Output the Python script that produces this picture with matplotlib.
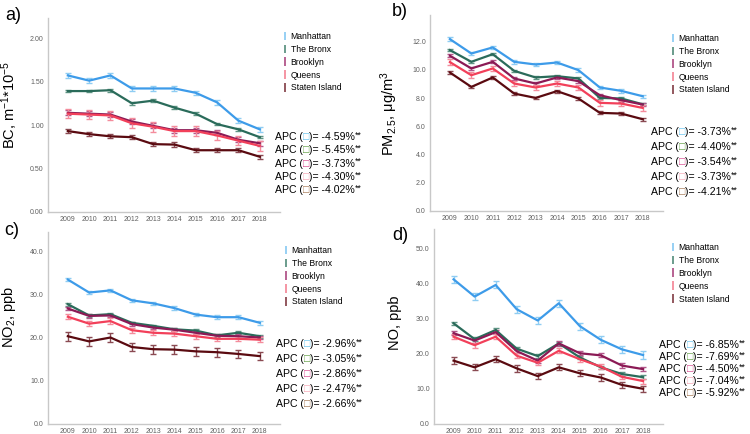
import numpy as np
import matplotlib
matplotlib.use("Agg")
import matplotlib.pyplot as plt

plt.rcParams['font.family'] = ['Liberation Sans', 'DejaVu Sans']
plt.rcParams['mathtext.fontset'] = 'custom'
plt.rcParams['mathtext.rm'] = 'Liberation Sans'
plt.rcParams['mathtext.it'] = 'Liberation Sans:italic'

years = [2009, 2010, 2011, 2012, 2013, 2014, 2015, 2016, 2017, 2018]
boroughs = ["Manhattan", "The Bronx", "Brooklyn", "Queens", "Staten Island"]

# BC, m-1*10-5
bc_manhattan = [1.57, 1.51, 1.57, 1.42, 1.42, 1.42, 1.37, 1.26, 1.05, 0.95]
bc_bronx = [1.39, 1.39, 1.40, 1.25, 1.28, 1.20, 1.13, 1.01, 0.95, 0.86]
bc_brooklyn = [1.14, 1.13, 1.12, 1.04, 0.99, 0.94, 0.94, 0.91, 0.83, 0.79]
bc_queens = [1.13, 1.12, 1.11, 1.02, 0.98, 0.93, 0.93, 0.88, 0.82, 0.76]
bc_staten = [0.93, 0.895, 0.87, 0.86, 0.78, 0.775, 0.71, 0.71, 0.71, 0.635]
bc_err = [0.025, 0.015, 0.03, 0.055, 0.025]
bc_apc = ["-4.59", "-5.45", "-3.73", "-4.30", "-4.02"]

# PM2.5, ug/m3
pm_manhattan = [12.19, 11.17, 11.60, 10.58, 10.39, 10.53, 9.99, 8.76, 8.52, 8.14]
pm_bronx = [11.41, 10.58, 11.12, 9.94, 9.47, 9.56, 9.40, 8.02, 7.98, 7.57]
pm_brooklyn = [11.01, 10.11, 10.58, 9.40, 9.04, 9.47, 9.21, 8.21, 7.86, 7.55]
pm_queens = [10.56, 9.63, 10.11, 9.04, 8.76, 9.04, 8.76, 7.67, 7.62, 7.31]
pm_staten = [9.82, 8.80, 9.47, 8.33, 8.02, 8.50, 7.98, 6.96, 6.91, 6.51]
pm_err = [0.12, 0.08, 0.1, 0.2, 0.1]
pm_apc = ["-3.73", "-4.40", "-3.54", "-3.73", "-4.21"]

# NO2, ppb
no2_manhattan = [33.4, 30.4, 30.9, 28.6, 27.9, 26.8, 25.3, 24.7, 24.7, 23.4]
no2_bronx = [27.7, 25.1, 25.4, 23.4, 22.7, 21.9, 21.6, 20.5, 21.1, 20.3]
no2_brooklyn = [26.7, 25.0, 25.1, 23.1, 22.3, 21.8, 21.1, 20.4, 20.3, 20.0]
no2_queens = [24.8, 23.2, 23.8, 21.7, 21.1, 20.9, 20.3, 19.7, 19.7, 19.5]
no2_staten = [20.3, 19.1, 20.0, 17.8, 17.3, 17.2, 16.8, 16.6, 16.2, 15.7]
no2_err = [0.4, 0.3, 0.4, 0.6, 1.0]
no2_apc = ["-2.96", "-3.05", "-2.86", "-2.47", "-2.66"]

# NO, ppb
no_manhattan = [41.1, 36.2, 39.5, 32.6, 29.4, 34.3, 27.8, 23.9, 21.2, 19.6]
no_bronx = [28.6, 24.1, 26.7, 21.4, 19.3, 22.9, 18.9, 16.1, 14.2, 13.3]
no_brooklyn = [25.8, 23.7, 26.1, 20.7, 18.0, 22.9, 20.1, 19.5, 16.6, 15.6]
no_queens = [24.8, 22.4, 24.8, 19.4, 17.4, 20.8, 18.4, 16.3, 13.4, 12.2]
no_staten = [18.0, 16.1, 18.4, 15.8, 13.6, 16.1, 14.4, 13.2, 11.1, 10.0]
no_err = [1.0, 0.5, 0.6, 0.7, 0.9]
no_apc = ["-6.85", "-7.69", "-4.50", "-7.04", "-5.92"]

line_colors = ["#3d9be9", "#2a6b5a", "#8b1a55", "#f2405a", "#5a0a10"]
err_colors = ["#8fcdf3", "#5f9484", "#b2568a", "#f48c9c", "#8a4a52"]
box_colors = ["#5cc0ef", "#5a9a3a", "#d8408a", "#f7a1b0", "#a0704a"]

W, H = 750, 434


def px(x, y):
    return x / W, 1 - y / H


fig = plt.figure(figsize=(7.5, 4.34), dpi=100)

panels = [
    dict(series=[bc_manhattan, bc_bronx, bc_brooklyn, bc_queens, bc_staten], err=bc_err, apc=bc_apc,
         rect=(48, 18, 280, 212), ylim=2.23, yticks=[0, 0.5, 1.0, 1.5, 2.0], fmt="{:.2f}",
         ylabel="BC, m$^{-1}$*10$^{-5}$", ylab=(-0.122, 0.55), letter="a)", lpos=(13, 15),
         leg=(282, 32), apc_pos=(275, 137, 13.3)),
    dict(series=[pm_manhattan, pm_bronx, pm_brooklyn, pm_queens, pm_staten], err=pm_err, apc=pm_apc,
         rect=(430, 15, 663, 211), ylim=13.9, yticks=[0, 2, 4, 6, 8, 10, 12], fmt="{:.1f}",
         ylabel="PM$_{2.5}$, \u03bcg/m$^{3}$", ylab=(-0.129, 0.5), letter="b)", lpos=(400, 11),
         leg=(670, 34), apc_pos=(651, 132, 15)),
    dict(series=[no2_manhattan, no2_bronx, no2_brooklyn, no2_queens, no2_staten], err=no2_err, apc=no2_apc,
         rect=(48, 232, 280, 424), ylim=44.4, yticks=[0, 10, 20, 30, 40], fmt="{:.1f}",
         ylabel="NO$_{2}$, ppb", ylab=(-0.13, 0.557), letter="c)", lpos=(12, 230),
         leg=(283, 246), apc_pos=(276, 344, 15)),
    dict(series=[no_manhattan, no_bronx, no_brooklyn, no_queens, no_staten], err=no_err, apc=no_apc,
         rect=(434, 229, 663, 424), ylim=55.4, yticks=[0, 10, 20, 30, 40, 50], fmt="{:.1f}",
         ylabel="NO, ppb", ylab=(-0.14, 0.518), letter="d)", lpos=(400, 236),
         leg=(670, 243), apc_pos=(659, 345, 12)),
]

for p in panels:
    x0, y0, x1, y1 = p["rect"]
    ax = fig.add_axes([x0 / W, 1 - y1 / H, (x1 - x0) / W, (y1 - y0) / H])
    handles = []
    for vals, e, lc, ec, name in zip(p["series"], p["err"], line_colors, err_colors, boroughs):
        ax.plot(years, vals, color=lc, lw=1.6, zorder=3)
        ax.errorbar(years, vals, yerr=e, fmt="none", ecolor=ec, elinewidth=1,
                    capsize=2, capthick=1, zorder=2)
        h = ax.errorbar([], [], yerr=[], fmt="none", ecolor=ec, elinewidth=1.3,
                        capsize=2, capthick=1.3, label=name)
        handles.append(h)
    ax.set_xlim(2008.07, 2018.95)
    ax.set_ylim(0, p["ylim"])
    ax.set_xticks(years)
    ax.set_xticklabels([str(y) for y in years])
    ax.set_yticks(p["yticks"])
    ax.set_yticklabels([p["fmt"].format(t) for t in p["yticks"]])
    ax.tick_params(length=0, labelsize=5, labelcolor="#606060", pad=3)
    for s in ["top", "right"]:
        ax.spines[s].set_visible(False)
    for s in ["left", "bottom"]:
        ax.spines[s].set_color("#c8c8c8")
        ax.spines[s].set_linewidth(1)
    ax.set_ylabel(p["ylabel"], fontsize=10.5)
    ax.yaxis.set_label_coords(*p["ylab"])

    lx, ly = p["leg"]
    bx = (lx - x0) / (x1 - x0)
    by = (y1 - ly) / (y1 - y0)
    ax.legend(handles=handles, loc="upper left", bbox_to_anchor=(bx, by), frameon=False,
              fontsize=6.2, borderpad=0, borderaxespad=0, handlelength=0.6,
              handletextpad=0.4, labelspacing=0.45)

    fig.text(*px(*p["lpos"]), p["letter"], fontsize=13, ha="center", va="center")

    ax0, ay0, dy = p["apc_pos"]
    for i, (val, bc) in enumerate(zip(p["apc"], box_colors)):
        t1 = fig.text(*px(ax0, ay0 + i * dy), "APC (", fontsize=7.6, ha="left", va="center")
        t2 = ax.annotate("\u25a1", xy=(1, 0), xycoords=t1, fontsize=7.6, color=bc,
                         ha="left", va="bottom")
        t3 = ax.annotate(")= " + val + "%", xy=(1, 0), xycoords=t2, fontsize=7.6,
                         ha="left", va="bottom")
        ax.annotate("**", xy=(1, 0.25), xycoords=t3, fontsize=6.3, ha="left", va="bottom")

fig.savefig("out.png", dpi=100)
